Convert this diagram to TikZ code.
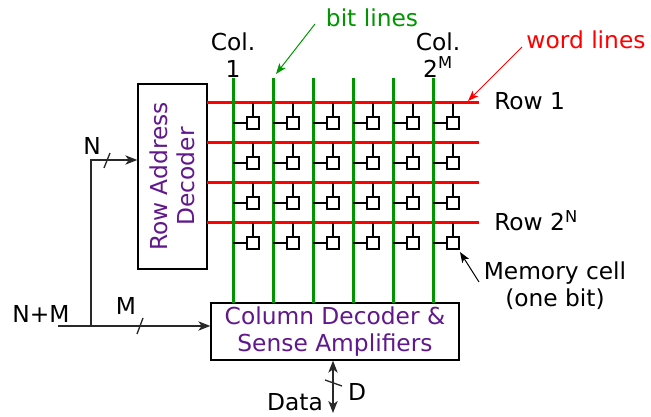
\documentclass[tikz,border=0pt]{standalone}
\usepackage{fontspec}
\setmainfont{DejaVu Sans}
\usetikzlibrary{arrows.meta}
\definecolor{wordred}{RGB}{255,0,0}
\definecolor{bitgreen}{RGB}{0,150,0}
\definecolor{decpurple}{RGB}{96,24,140}
\tikzset{
  bus/.style={line width=1pt, draw={rgb,255:red,40;green,40;blue,40}},
  busarrow/.style={bus, -{Stealth[length=9pt,width=7pt,inset=2.5pt]}},
  decbox/.style={draw, line width=1pt, text=decpurple, align=center, inner sep=0pt},
  lbl/.style={inner sep=0.75pt, align=center, font=\fontsize{17.5}{20}\selectfont},
}
\begin{document}
\begin{tikzpicture}[x=0.75pt,y=0.75pt,yscale=-1,xscale=1]
\useasboundingbox (0,0) rectangle (651,417);
%Shape: Rect [id:rowdec]
\node [decbox, minimum width=51.75pt, minimum height=138.75pt] (rowdec) at (172.5,176.5) {};
\node [lbl, text=decpurple, rotate=90] (rowdectxt) at (rowdec.center) {Row Address\\Decoder};
%Shape: Rect [id:coldec]
\node [decbox, lbl, text=decpurple, minimum width=186pt, minimum height=42.75pt] (coldec) at (335,331.5) {Column Decoder \&\\Sense Amplifiers};
%word lines and bit lines
\foreach \r in {0,...,3}
  \draw [wordred, line width=2.25pt] (207,103+40*\r) -- (479,103+40*\r) ;
\foreach \c in {0,...,5}
  \draw [bitgreen, line width=2.25pt] (233+40*\c,78) -- (233+40*\c,303) ;
%Shape: memory cells
\foreach \r in {0,...,3}
  \foreach \c in {0,...,5} {
    \draw [line width=0.9pt] (253+40*\c,103+40*\r) -- (253+40*\c,117+40*\r) ;
    \draw [line width=0.9pt] (233+40*\c,123+40*\r) -- (247+40*\c,123+40*\r) ;
    \draw [line width=0.9pt, fill=white] (247+40*\c,117+40*\r) rectangle (259+40*\c,129+40*\r) ;
  }
\coordinate (lastcell) at (460,252) ;
%labels
\node [lbl] (col1) at (233,55) {Col.\\1};
\node [lbl] (colm) at (438,55) {Col.\\2\textsuperscript{M}};
\node [lbl, text=bitgreen] (bitlbl) at (372,18) {bit lines};
\node [lbl, text=wordred] (wordlbl) at (586,40) {word lines};
\node [lbl, anchor=west] (row1) at (493,101) {Row 1};
\node [lbl, anchor=west] (rown) at (493,221) {Row 2\textsuperscript{N}};
\node [lbl] (cell) at (555,286) {Memory cell\\(one bit)};
\node [lbl] (inlbl) at (41,314) {N+M};
\node [lbl] (nlbl) at (92,146) {N};
\node [lbl] (mlbl) at (126,306) {M};
\node [lbl] (datalbl) at (295,402) {Data};
\node [lbl] (dlbl) at (357,392) {D};
%pointer arrows
\draw [bitgreen, line width=0.75pt, -{Stealth[length=8pt,width=6pt,inset=2pt]}] (315,24) -- (276,74) ;
\draw [wordred, line width=0.75pt, -{Stealth[length=8pt,width=6pt,inset=2pt]}] (522,47) -- (468,101) ;
\draw [line width=0.75pt, -{Stealth[length=8pt,width=6pt,inset=2pt]}] (479,282) -- (lastcell) ;
%address buses
\coordinate (inend) at (58,326) ;
\coordinate (split) at (91,326) ;
\coordinate (nturn) at (91,160) ;
\draw [bus] (inend) -- (split) ;
\draw [busarrow] (split) -- (nturn) -- (rowdec.west |- nturn) ;
\draw [busarrow] (split) -- (coldec.west |- split) ;
\draw [bus] (104,168) -- (110,153) ;
\draw [bus] (137,334) -- (143,318) ;
%data bus
\coordinate (dataend) at (333,413) ;
\draw [bus, {Stealth[length=9pt,width=7pt,inset=2.5pt]}-{Stealth[length=9pt,width=7pt,inset=2.5pt]}] (coldec.south -| dataend) -- (dataend) ;
\draw [bus] (325,380) -- (342,386) ;
\end{tikzpicture}
\end{document}
